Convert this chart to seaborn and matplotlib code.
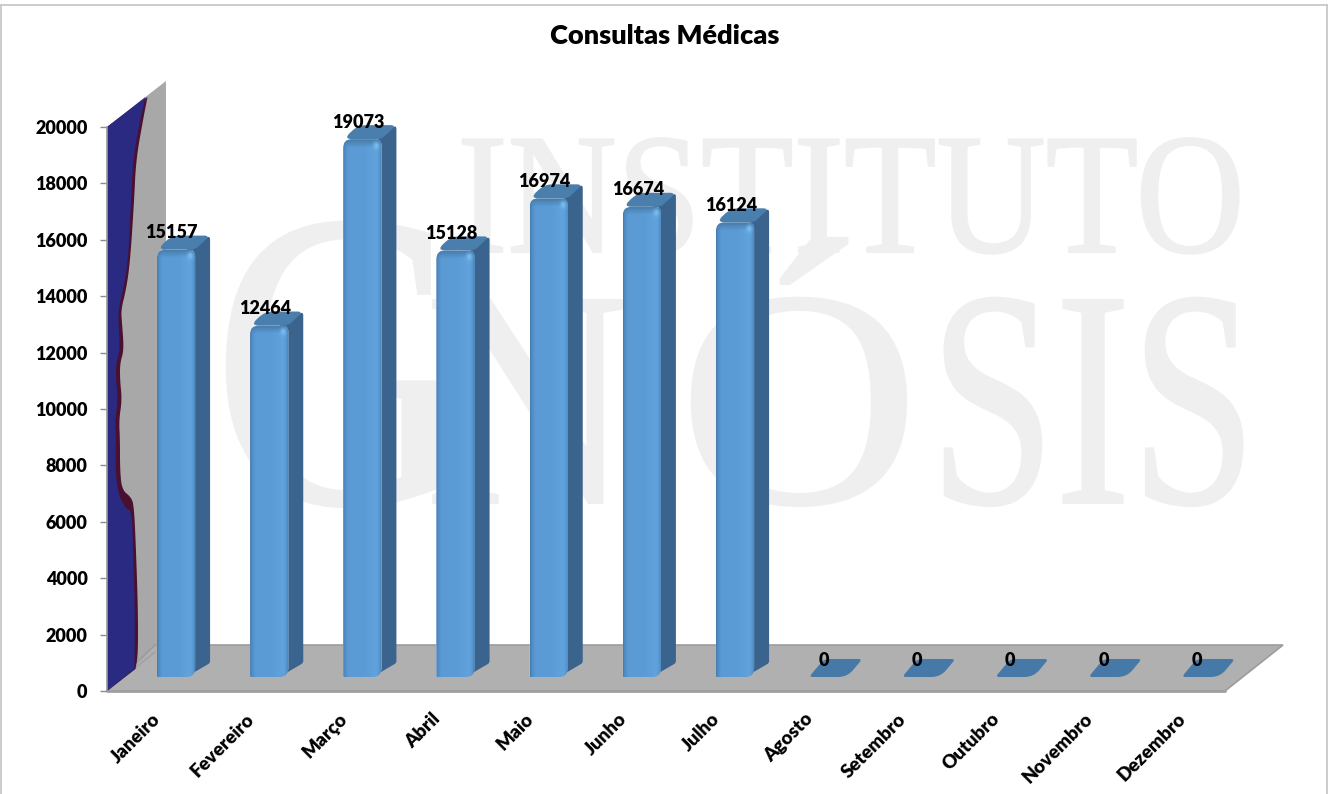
import numpy as np
import pandas as pd
import matplotlib
matplotlib.use("Agg")
import matplotlib.pyplot as plt
import seaborn as sns
from matplotlib.path import Path
from matplotlib.patches import PathPatch, Polygon
from matplotlib.lines import Line2D
from matplotlib.patheffects import AbstractPathEffect
from matplotlib.transforms import Affine2D, ScaledTranslation

meses = ["Janeiro", "Fevereiro", "Março", "Abril", "Maio", "Junho", "Julho",
         "Agosto", "Setembro", "Outubro", "Novembro", "Dezembro"]
consultas = [15157, 12464, 19073, 15128, 16974, 16674, 16124, 0, 0, 0, 0, 0]
titulo = "Consultas Médicas"

W, H = 1330, 794
sns.set_theme(style="white")
plt.rcParams["font.family"] = ["Lato", "DejaVu Sans"]
plt.rcParams["font.weight"] = "heavy"
fig = plt.figure(figsize=(W / 100, H / 100), dpi=100, facecolor="white")
PX = Affine2D().scale(1 / W, -1 / H).translate(0, 1) + fig.transFigure


def rect(l, t, r, b):
    return [l / W, 1 - b / H, (r - l) / W, (b - t) / H]


def rounded(points, radii):
    """Closed path through points with quadratic rounded corners."""
    n = len(points)
    verts, codes = [], []
    for i, (p, r) in enumerate(zip(points, radii)):
        p = np.array(p, float)
        a = np.array(points[i - 1], float)
        b = np.array(points[(i + 1) % n], float)
        p1 = p + (a - p) / np.linalg.norm(a - p) * r
        p2 = p + (b - p) / np.linalg.norm(b - p) * r
        verts += [p1, p, p2]
        codes += [Path.MOVETO if i == 0 else Path.LINETO, Path.CURVE3, Path.CURVE3]
    verts.append(verts[0])
    codes.append(Path.CLOSEPOLY)
    return Path(verts, codes)


def smooth(points, n=3):
    pts = np.array(points, float)
    for _ in range(n):
        q = 0.75 * pts[:-1] + 0.25 * pts[1:]
        r = 0.25 * pts[:-1] + 0.75 * pts[1:]
        new = np.empty((2 * len(q), 2))
        new[0::2], new[1::2] = q, r
        pts = np.vstack([pts[:1], new, pts[-1:]])
    return pts


class Stretch(AbstractPathEffect):
    """Narrow the glyphs of a real text around its anchor, in pixels, and thicken them."""
    def __init__(self, anchor, sx, sy=1.0, lw=1.5):
        super().__init__()
        self.anchor, self.sx, self.sy, self.lw = anchor, sx, sy, lw

    def draw_path(self, renderer, gc, tpath, affine, rgbFace=None):
        ax_, ay_ = self.anchor
        t = affine + Affine2D().translate(-ax_, -ay_).scale(self.sx, self.sy).translate(ax_, ay_)
        g = renderer.new_gc()
        g.copy_properties(gc)
        g.set_linewidth(self.lw)
        g.set_foreground(rgbFace)
        renderer.draw_path(g, tpath, t, rgbFace)
        g.restore()


def watermark(txt, xc, base, px_size, sx):
    fig.text(xc / W, 1 - base / H, txt, family="Liberation Serif", weight="normal",
             fontsize=px_size * 0.72, color="#EFEFEF", ha="center", va="baseline",
             zorder=-5, path_effects=[Stretch((xc, H - base), sx)])


watermark("INSTITUTO", 851, 252, 172, 0.88)
watermark("G", 341, 503, 425, 0.84)
watermark("N", 529, 503, 310, 0.93)
watermark("Ó", 799, 503, 310, 1.08)
watermark("SIS", 1093, 503, 310, 0.73)

# Frame of the slide
for xs, ys in [((1, 1), (5, 794)), ((1, 1327), (5, 5)), ((1327, 1327), (5, 794))]:
    fig.add_artist(Line2D(xs, ys, transform=PX, color="#C4C4C4", lw=1.2, zorder=-4))

# Wall and floor of the 3-D box
fig.add_artist(Polygon([(107, 127), (166, 81), (166, 645), (107, 691)], transform=PX,
                       fc="#A8A8A8", ec="none", zorder=-3))
fig.add_artist(Polygon([(107, 691), (155, 645), (1283, 645), (1225, 691)], transform=PX,
                       fc="#B0B0B0", ec="#9C9C9C", lw=1.2, zorder=-3))
fig.add_artist(Line2D((107, 1225), (691, 691), transform=PX, color="#A0A0A0", lw=2, zorder=-2.5))
fig.add_artist(Line2D((107, 155), (691, 652), transform=PX, color="#9C9C9C", lw=0.8, zorder=-2.5))

# Picture on the wall: navy shape with maroon rim
outer = [(147.5, 97), (143, 120), (136, 160), (134, 203), (130, 263), (126, 290), (121, 310),
         (122, 323), (124, 350), (120, 363), (120, 380), (122, 400), (119, 420), (120, 440),
         (120, 470), (122, 490), (131, 497), (134, 506), (136, 550), (138, 610), (138, 655), (135.5, 669)]
inner = [(145.5, 97), (140, 120), (133, 160), (131, 203), (128, 263), (123, 290), (118.5, 310),
         (118.5, 323), (120, 350), (116, 363), (116, 380), (118, 400), (115, 420), (116, 440),
         (115.5, 470), (118, 493), (125, 508), (132, 511), (133, 550), (135, 610), (134.5, 669)]
fig.add_artist(Polygon(np.vstack([[(107, 127)], smooth(outer), [(107, 691)]]), transform=PX,
                       fc="#4A1030", ec="none", zorder=-2))
fig.add_artist(Polygon(np.vstack([[(107, 127)], smooth(inner), [(107, 691)]]), transform=PX,
                       fc="#2A2A82", ec="none", zorder=-1.9))

# Value axis, on the front plane
ax_y = fig.add_axes(rect(107, 127, 1225, 691), facecolor="none", zorder=1)
ax_y.set_ylim(0, 20000)
ax_y.set_xticks([])
ax_y.set_yticks(np.arange(0, 20001, 2000))
ax_y.tick_params(axis="y", left=True, length=5, width=1, color="#8C8C8C", pad=9,
                 labelsize=13, labelcolor="black")
for s in ("top", "right", "bottom"):
    ax_y.spines[s].set_visible(False)
ax_y.spines["left"].set_color("#9A9A9A")
ax_y.spines["left"].set_linewidth(1.2)

# Bars, on the plane pushed back into the box
ax = fig.add_axes(rect(129.4, 113, 1247.4, 677), facecolor="none", zorder=2)
df = pd.DataFrame({"mes": meses, "consultas": consultas})
sns.barplot(data=df, x="mes", y="consultas", order=meses, color="#5B9BD5",
            saturation=1, width=0.41, ax=ax)
ax.set_xlim(-0.5, 11.5)
ax.set_ylim(0, 20000)
ax.set_xlabel("")
ax.set_ylabel("")
ax.set_yticks([])
ax.set_xticks(range(len(meses)))
ax.set_xticklabels(meses, rotation=45, ha="right", va="top", rotation_mode="anchor",
                   fontsize=13.5, color="black")
ax.tick_params(axis="x", bottom=False, pad=18)
shift = ScaledTranslation(-24 / 100, 0, fig.dpi_scale_trans)
for lab in ax.get_xticklabels():
    lab.set_transform(lab.get_transform() + shift)
sns.despine(ax=ax, left=True, bottom=True)

DX, DY = 15, 14
bars = list(ax.patches)
stops = np.array([0, 0.05, 0.14, 0.55, 0.86, 0.93, 1.0])
cols = np.array([[70, 125, 176], [82, 142, 200], [91, 155, 213], [91, 155, 213],
                 [97, 163, 222], [91, 155, 213], [72, 128, 178]], float) / 255
for bar, val in zip(bars, consultas):
    (xl, yb) = ax.transData.transform((bar.get_x(), 0))
    (xr, yt) = ax.transData.transform((bar.get_x() + bar.get_width(), val))
    xl, xr = xl / fig.dpi * 100, xr / fig.dpi * 100
    yb, yt = H - yb / fig.dpi * 100, H - yt / fig.dpi * 100
    if val == 0:
        top = rounded([(xl, yb), (xl + DX, yb - DY - 4), (xr + DX, yb - DY - 4), (xr, yb)], [4, 5, 4, 9])
        ax.add_patch(PathPatch(top, transform=PX, fc="#4678A8", ec="none", clip_on=False, zorder=3))
        bar.set_visible(False)
        continue
    side = rounded([(xr - 9, yt), (xr + DX, yt - DY), (xr + DX, yb - DY), (xr - 9, yb)], [2, 4, 2, 1])
    ax.add_patch(PathPatch(side, transform=PX, fc="#3A648D", ec="none", clip_on=False, zorder=3))
    face = rounded([(xl, yt), (xl + DX, yt - DY), (xr + DX, yt - DY), (xr, yt)], [9, 8, 6, 4])
    ax.add_patch(PathPatch(face, transform=PX, fc="#4A7EAD", ec="none", clip_on=False, zorder=3.1))
    front = rounded([(xl, yt), (xr, yt), (xr, yb), (xl, yb)], [9, 6, 9, 1])
    clip = PathPatch(front, transform=PX, fc="none", ec="none")
    ax.add_patch(clip)
    bar.set_zorder(4)
    bar.set_clip_path(clip)
    # Shaded front: horizontal bevel, darker rim at the top
    h = max(int(yb - yt), 2)
    u = np.linspace(0, 1, 48)
    row = np.stack([np.interp(u, stops, cols[:, k]) for k in range(3)], axis=1)
    img = np.repeat(row[None, :, :], h, axis=0)
    rim = np.clip((np.arange(h) - 1) / 7, 0, 1)[:, None, None]
    img = img * rim + np.array([74, 126, 173])[None, None, :] / 255 * (1 - rim)
    ys, xs = np.mgrid[0:h, 0:48]
    glow = np.exp(-(((xs - 40.5) / 3.5) ** 2 + ((ys - 6) / 3.5) ** 2))[:, :, None]
    img = img * (1 - glow) + np.array([122, 190, 240])[None, None, :] / 255 * glow
    im = ax.imshow(img, extent=(xl, xr, yb, yt), transform=PX, aspect="auto",
                   interpolation="bilinear", zorder=5)
    im.set_clip_path(clip)

ax.set_xlim(-0.5, 11.5)
ax.set_ylim(0, 20000)

# Value labels
for i, v in enumerate(consultas):
    ax.annotate(str(v), xy=(i, v), xytext=(-3.0, 12.2), textcoords="offset points",
                ha="center", va="center", fontsize=13, color="black",
                annotation_clip=False, zorder=8)

fig.text(665 / W, 1 - 36 / H, titulo, ha="center", va="center", fontsize=19.5,
         color="black", zorder=9)

fig.savefig("out.png", dpi=100)
